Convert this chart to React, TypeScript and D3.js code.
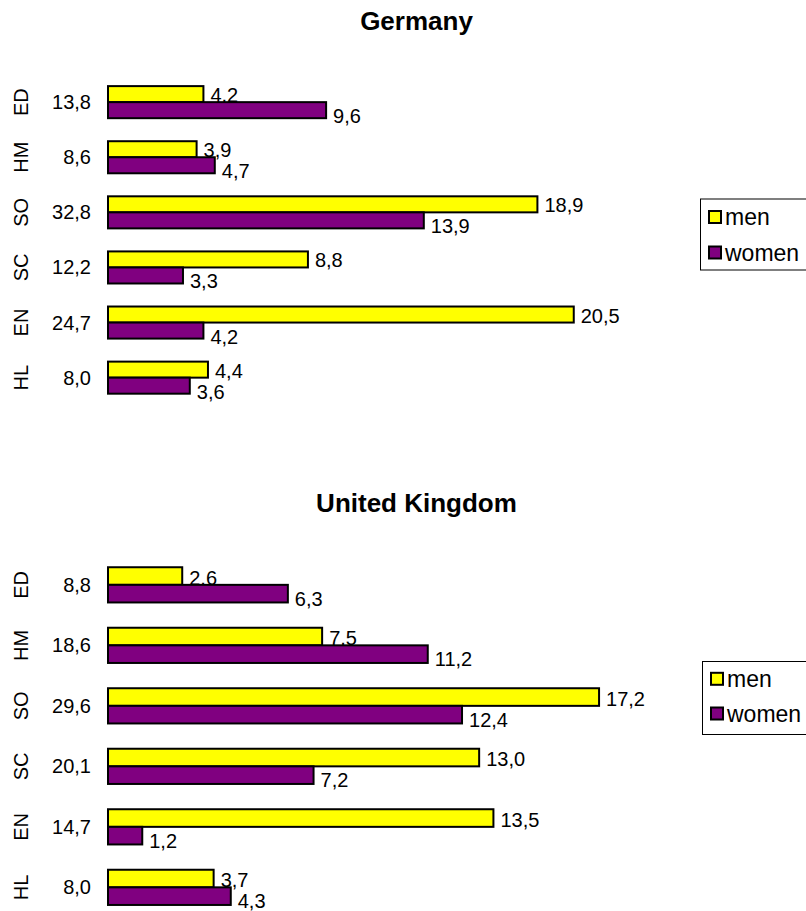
import React from 'react';
import * as d3 from 'd3';

// Fields of study, listed top to bottom
const CATEGORIES = ['ED', 'HM', 'SO', 'SC', 'EN', 'HL'];
const SERIES = ['men', 'women'];

// Germany: shares by field (%)
const GERMANY_MEN = [4.2, 3.9, 18.9, 8.8, 20.5, 4.4];
const GERMANY_WOMEN = [9.6, 4.7, 13.9, 3.3, 4.2, 3.6];
const GERMANY_TOTAL = [13.8, 8.6, 32.8, 12.2, 24.7, 8.0];

// United Kingdom: shares by field (%)
const UK_MEN = [2.6, 7.5, 17.2, 13.0, 13.5, 3.7];
const UK_WOMEN = [6.3, 11.2, 12.4, 7.2, 1.2, 4.3];
const UK_TOTAL = [8.8, 18.6, 29.6, 20.1, 14.7, 8.0];

const COLORS: Record<string, string> = { men: '#FFFF00', women: '#800080' };
const FONT = '"Liberation Sans", Arial, sans-serif';

const locale = d3.formatLocale({ decimal: ',', thousands: '.', grouping: [3], currency: ['', ''] });
const fmt = locale.format('.1f');

type PanelProps = {
  title: string;
  titleY: number;
  men: number[];
  women: number[];
  totals: number[];
  xMax: number;
  xRight: number;
  yTop: number;
  step: number;
  womenLabelDrop: number;
  legendBox: { x: number; y: number; h: number };
  legendRows: number[];
};

function Panel({
  title,
  titleY,
  men,
  women,
  totals,
  xMax,
  xRight,
  yTop,
  step,
  womenLabelDrop,
  legendBox,
  legendRows,
}: PanelProps) {
  const x = d3.scaleLinear().domain([0, xMax]).range([108, xRight]);
  const y = d3
    .scaleBand<string>()
    .domain(CATEGORIES)
    .range([yTop, yTop + step * CATEGORIES.length])
    .paddingInner(0.418)
    .paddingOuter(0.209);
  const inner = d3.scaleBand<string>().domain(SERIES).range([0, y.bandwidth()]).padding(0);
  const values: Record<string, number[]> = { men, women };

  return (
    <g>
      <text x={416.5} y={titleY} textAnchor="middle" fontFamily={FONT} fontWeight="bold" fontSize={26} fill="#000">
        {title}
      </text>
      {CATEGORIES.map((cat, i) => {
        const y0 = y(cat)!;
        const cy = y0 + y.bandwidth() / 2;
        return (
          <g key={cat}>
            <text
              transform={`translate(28,${cy}) rotate(-90)`}
              textAnchor="middle"
              fontFamily={FONT}
              fontSize={20}
              fill="#000"
            >
              {cat}
            </text>
            <text x={91} y={cy + 7} textAnchor="end" fontFamily={FONT} fontSize={20} fill="#000">
              {fmt(totals[i])}
            </text>
            {SERIES.map((s) => {
              const v = values[s][i];
              const by = y0 + inner(s)!;
              const bh = inner.bandwidth();
              const labelY = s === 'men' ? by + bh : by + bh + womenLabelDrop;
              return (
                <g key={s}>
                  <rect
                    x={x(0)}
                    y={by}
                    width={x(v) - x(0)}
                    height={bh}
                    fill={COLORS[s]}
                    stroke="#000"
                    strokeWidth={2}
                  />
                  <text x={x(v) + 7} y={labelY} fontFamily={FONT} fontSize={20} fill="#000">
                    {fmt(v)}
                  </text>
                </g>
              );
            })}
          </g>
        );
      })}
      <rect x={legendBox.x} y={legendBox.y} width={140} height={legendBox.h} fill="#fff" stroke="#000" strokeWidth={1} />
      {SERIES.map((s, i) => (
        <g key={s}>
          <rect
            x={legendBox.x + 8.5}
            y={legendRows[i] - 6.5}
            width={12}
            height={12}
            fill={COLORS[s]}
            stroke="#000"
            strokeWidth={2}
          />
          <text x={legendBox.x + 24.5} y={legendRows[i] + 7.5} fontFamily={FONT} fontSize={23} fill="#000">
            {s}
          </text>
        </g>
      ))}
    </g>
  );
}

export default function App() {
  return (
    <svg
      width={806}
      height={911}
      style={{ position: 'absolute', left: 0, top: 0, background: '#fff' }}
    >
      <rect width={806} height={911} fill="#fff" />
      <Panel
        title="Germany"
        titleY={30}
        men={GERMANY_MEN}
        women={GERMANY_WOMEN}
        totals={GERMANY_TOTAL}
        xMax={25}
        xRight={676}
        yTop={74.6}
        step={55.1}
        womenLabelDrop={5}
        legendBox={{ x: 700.5, y: 199, h: 71 }}
        legendRows={[217.5, 253]}
      />
      <Panel
        title="United Kingdom"
        titleY={511.5}
        men={UK_MEN}
        women={UK_WOMEN}
        totals={UK_TOTAL}
        xMax={20}
        xRight={679}
        yTop={554.6}
        step={60.5}
        womenLabelDrop={3.5}
        legendBox={{ x: 702.5, y: 661.5, h: 73 }}
        legendRows={[679.3, 714]}
      />
    </svg>
  );
}
